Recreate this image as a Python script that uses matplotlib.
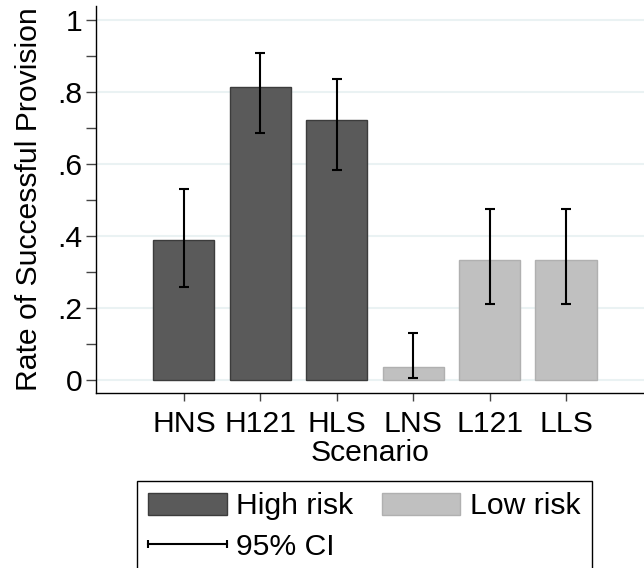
import matplotlib.pyplot as plt
from matplotlib.patches import Patch
from matplotlib.lines import Line2D
from matplotlib.legend_handler import HandlerLine2D

plt.rcParams['font.family'] = ['Liberation Sans', 'DejaVu Sans']

# Rates of successful provision by scenario, with 95% CI bounds
scenarios = ['HNS', 'H121', 'HLS', 'LNS', 'L121', 'LLS']
rates = [0.389, 0.815, 0.722, 0.037, 0.333, 0.333]
ci_low = [0.259, 0.685, 0.583, 0.006, 0.211, 0.211]
ci_high = [0.532, 0.909, 0.836, 0.130, 0.474, 0.474]
risk = ['High', 'High', 'High', 'Low', 'Low', 'Low']

y_ticks = [0, 0.2, 0.4, 0.6, 0.8, 1.0]
y_tick_labels = ['0', '.2', '.4', '.6', '.8', '1']
y_minor = [0.1, 0.3, 0.5, 0.7, 0.9]

face = {'High': '#5a5a5a', 'Low': '#c0c0c0'}
edge = {'High': '#3c3c3c', 'Low': '#b0b0b0'}
fs = 21.7

fig = plt.figure(figsize=(6.44, 5.68), dpi=100)
ax = fig.add_axes([96 / 644, 1 - 393 / 568, 1 - 96 / 644, 387 / 568])

x = list(range(len(scenarios)))
ax.bar(x, rates, width=0.8,
       color=[face[r] for r in risk],
       edgecolor=[edge[r] for r in risk], linewidth=1, zorder=2)

err_lo = [r - lo for r, lo in zip(rates, ci_low)]
err_hi = [hi - r for r, hi in zip(rates, ci_high)]
ax.errorbar(x, rates, yerr=[err_lo, err_hi], fmt='none', ecolor='black',
            elinewidth=1.5, capsize=3.5, capthick=1.5, zorder=3)

ax.set_xlim(-1.15, 6.02)
ax.set_ylim(-0.036, 1.039)
ax.set_xticks(x)
ax.set_xticklabels(scenarios, fontsize=fs)
ax.set_yticks(y_ticks)
ax.set_yticklabels(y_tick_labels, fontsize=fs)
ax.set_yticks(y_minor, minor=True)

ax.grid(axis='y', which='major', color='#eaf2f3', linewidth=1.5, zorder=0)
ax.set_axisbelow(True)

for s in ['top', 'right']:
    ax.spines[s].set_visible(False)
for s in ['left', 'bottom']:
    ax.spines[s].set_color('black')
    ax.spines[s].set_linewidth(1)

ax.tick_params(axis='y', which='both', length=7, width=1, color='#444444',
               pad=3)
ax.tick_params(axis='x', length=6, width=1, color='#444444', pad=6)

ax.set_xlabel('Scenario', fontsize=fs, labelpad=1)
ax.set_ylabel('Rate of Successful Provision', fontsize=fs, labelpad=10)

ci_handle = Line2D([0, 1], [0, 0], color='black', linewidth=1.5, marker='|',
                   markersize=6, markeredgewidth=1.5)
handles = [
    Patch(facecolor=face['High'], edgecolor=edge['High']),
    ci_handle,
    Patch(facecolor=face['Low'], edgecolor=edge['Low']),
]
labels = ['High risk', '95% CI', 'Low risk']
leg = fig.legend(handles, labels, ncol=2, loc='upper left', numpoints=2,
                 handler_map={ci_handle: HandlerLine2D(marker_pad=0)},
                 bbox_to_anchor=(137 / 644, 1 - 481 / 568 - 0.01,
                                 455 / 644, 0.01),
                 mode='expand', fontsize=fs, frameon=True, fancybox=False,
                 edgecolor='black', framealpha=1, handlelength=2.6,
                 handleheight=0.75, handletextpad=0.32, labelspacing=0.4,
                 borderpad=0.38, borderaxespad=0)
leg.get_frame().set_linewidth(1)

fig.savefig('out.png', dpi=100)
